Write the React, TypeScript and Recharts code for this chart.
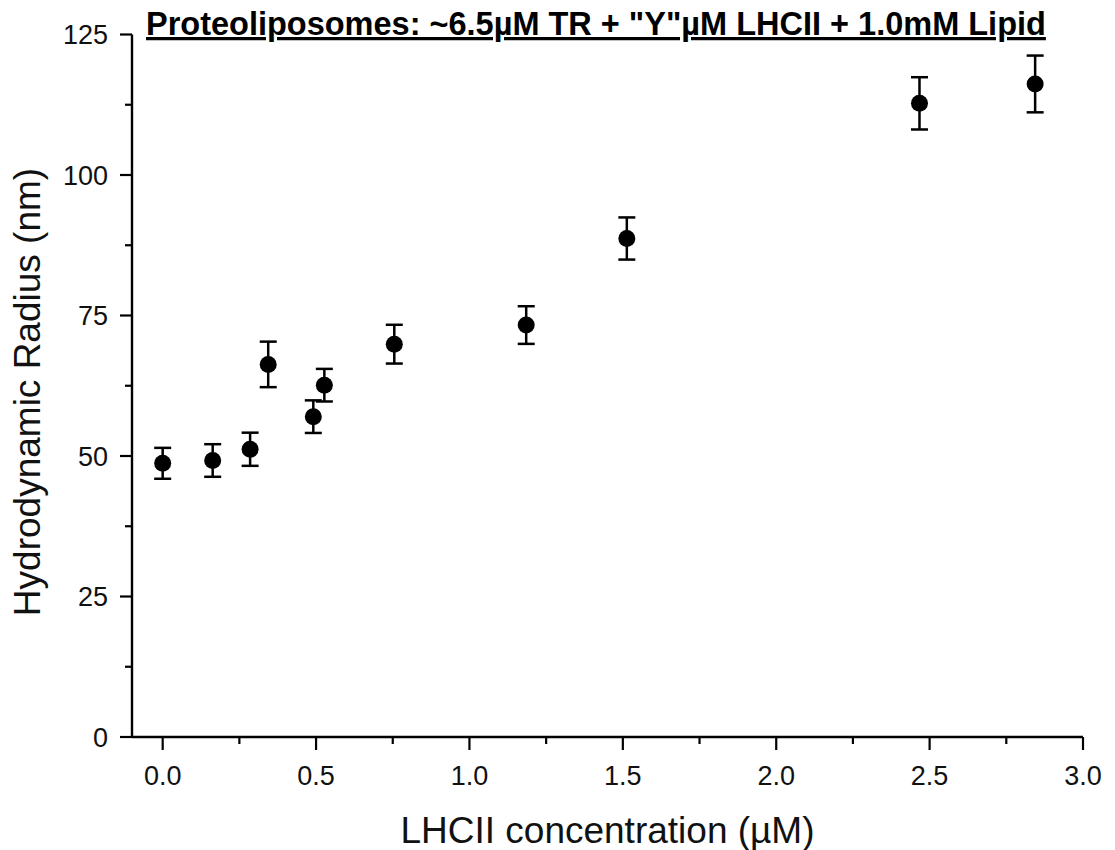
import React from 'react';
import { ScatterChart, Scatter, XAxis, YAxis, ErrorBar } from 'recharts';

const concentration = [0, 0.163, 0.285, 0.344, 0.491, 0.527, 0.755, 1.185, 1.513, 2.467, 2.844];
const radius = [48.7, 49.2, 51.2, 66.3, 57.0, 62.6, 69.9, 73.3, 88.7, 112.75, 116.2];
const radiusError = [2.75, 2.9, 2.95, 4.05, 2.9, 2.9, 3.45, 3.35, 3.75, 4.65, 5.05];

const xTicks = [0, 0.25, 0.5, 0.75, 1.0, 1.25, 1.5, 1.75, 2.0, 2.25, 2.5, 2.75, 3.0];
const yTicks = [0, 12.5, 25, 37.5, 50, 62.5, 75, 87.5, 100, 112.5, 125];

const titleText = 'Proteoliposomes: ~6.5µM TR + "Y"µM LHCII + 1.0mM Lipid';
const xTitle = 'LHCII concentration (µM)';
const yTitle = 'Hydrodynamic Radius (nm)';

const data = concentration.map((c, i) => ({ x: c, y: radius[i], err: radiusError[i] }));

const FONT = '"Liberation Sans", Arial, sans-serif';

const XTick = (props: any) => {
  const { x, y, payload } = props;
  const v = payload.value as number;
  const major = Math.abs(v * 2 - Math.round(v * 2)) < 1e-6;
  return (
    <g>
      <line x1={x} x2={x} y1={y} y2={y + (major ? 13 : 7)} stroke="#000" strokeWidth={2.2} />
      {major && (
        <text x={x} y={y + 48} textAnchor="middle" fontSize={27} fontFamily={FONT} fill="#111">
          {v.toFixed(1)}
        </text>
      )}
    </g>
  );
};

const YTick = (props: any) => {
  const { x, y, payload } = props;
  const v = payload.value as number;
  const major = Math.abs(v / 25 - Math.round(v / 25)) < 1e-6;
  return (
    <g>
      <line x1={x - (major ? 12 : 7)} x2={x} y1={y} y2={y} stroke="#000" strokeWidth={2.2} />
      {major && (
        <text x={x - 24} y={y} dy="0.36em" textAnchor="end" fontSize={27} fontFamily={FONT} fill="#111">
          {v}
        </text>
      )}
    </g>
  );
};

const Dot = (props: any) => {
  const { cx, cy } = props;
  return <circle cx={cx} cy={cy} r={8.5} fill="#000" />;
};

export default function App() {
  return (
    <div style={{ position: 'fixed', left: 0, top: 0, width: 1115, height: 850, background: '#fff', overflow: 'hidden' }}>
      <ScatterChart width={1115} height={850} margin={{ top: 34.5, right: 32, bottom: 0, left: 0 }}>
        <XAxis
          type="number"
          dataKey="x"
          domain={[-0.1, 3.0]}
          ticks={xTicks}
          interval={0}
          tickSize={0}
          tickMargin={0}
          tickLine={false}
          height={113}
          axisLine={{ stroke: '#000', strokeWidth: 2.4 }}
          tick={<XTick />}
        />
        <YAxis
          type="number"
          dataKey="y"
          domain={[0, 125]}
          ticks={yTicks}
          interval={0}
          tickSize={0}
          tickMargin={0}
          tickLine={false}
          width={132}
          axisLine={{ stroke: '#000', strokeWidth: 2.4 }}
          tick={<YTick />}
        />
        <Scatter data={data} shape={<Dot />} isAnimationActive={false}>
          <ErrorBar dataKey="err" direction="y" width={8.5} strokeWidth={2.5} stroke="#000" isAnimationActive={false} />
        </Scatter>
        <text x={146} y={35} fontSize={32.5} fontWeight="bold" fontFamily={FONT} fill="#000" textDecoration="underline">
          {titleText}
        </text>
        <text x={607.5} y={843} textAnchor="middle" fontSize={37} fontFamily={FONT} fill="#111">
          {xTitle}
        </text>
        <text transform="translate(40, 392) rotate(-90)" textAnchor="middle" fontSize={37} fontFamily={FONT} fill="#111">
          {yTitle}
        </text>
      </ScatterChart>
    </div>
  );
}
